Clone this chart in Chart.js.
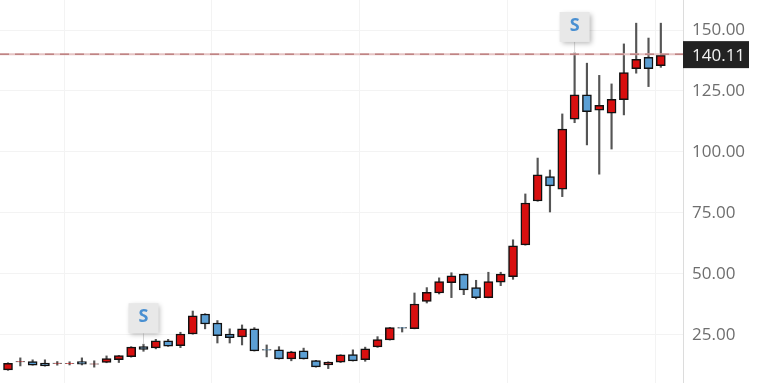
<!DOCTYPE html>
<html>
<head>
<meta charset="utf-8">
<style>
  html, body { margin: 0; padding: 0; background: #fff; }
  #wrap { width: 773px; height: 383px; }
</style>
<script src="https://cdn.jsdelivr.net/npm/chart.js@4"></script>
</head>
<body>
<div id="wrap"><canvas id="price"></canvas></div>
<script>
// one candle per period
const open = [10.7,13.9,14.1,13.5,13.3,13.3,14.1,13.0,13.7,14.9,16.1,20.2,19.7,22.6,20.6,25.4,33.6,29.9,25.4,24.2,27.5,19.0,18.9,15.2,18.5,14.5,12.7,13.8,16.9,14.9,20.1,23.0,28.0,27.6,38.7,42.2,46.4,49.9,44.4,40.3,46.6,48.9,61.9,79.9,89.9,84.8,113.4,123.4,117.1,115.9,121.4,134.1,138.8,135.4];
const close = [13.4,14.1,12.6,12.3,13.5,13.4,13.0,13.2,15.3,16.5,20.0,19.1,22.6,20.4,25.4,32.8,29.5,24.7,23.9,27.5,18.5,18.8,15.2,18.1,15.2,11.9,13.9,16.8,14.4,19.3,23.1,28.0,27.8,37.7,42.5,46.9,49.2,43.5,40.3,46.9,49.9,61.5,79.1,90.6,86.1,109.4,123.4,116.5,119.1,121.6,132.5,138.0,134.1,139.6];
const high = [13.6,15.6,14.8,14.8,14.1,14.0,15.6,14.4,16.4,16.6,20.2,21.2,23.2,23.2,26.1,34.8,33.7,30.9,27.5,29.1,28.0,20.9,20.2,18.3,19.6,14.6,14.0,16.9,18.9,20.0,24.3,28.1,28.1,42.2,44.4,48.4,50.5,50.0,47.4,50.7,50.7,64.0,82.8,97.5,92.6,115.6,140.6,136.4,131.4,127.9,144.3,152.8,146.7,152.8];
const low = [10.5,12.3,12.6,12.2,12.6,12.7,12.7,11.8,13.6,13.7,15.9,18.3,19.3,20.3,19.8,25.3,27.5,21.7,21.7,20.9,18.4,16.0,15.1,14.4,15.1,11.8,11.2,13.7,14.3,14.2,19.9,22.9,26.2,27.5,38.1,41.8,40.3,41.5,39.8,40.2,45.2,47.8,61.8,79.8,75.4,81.7,112.0,102.9,90.9,101.2,115.2,132.3,126.8,134.7];

const priceTicks = [25, 50, 75, 100, 125, 150];
const lastPrice = 140.11;
const gridAt = [4.55, 16.56, 28.57, 40.55, 52.55]; // vertical grid sits between candles
const signalAt = [11, 46]; // candles with an S flag
const signalText = 'S';

const UP = '#d80f0f';
const DOWN = '#5b9fd4';
const LABEL = "'Open Sans', sans-serif";

const idx = open.map((_, i) => i);

// S flags and the last price tag, placed from the scales
const overlay = {
    id: 'overlay',
    afterDatasetsDraw(chart) {
        const { ctx, scales: { x, y }, chartArea } = chart;
        const lineY = y.getPixelForValue(lastPrice);

        ctx.save();
        ctx.strokeStyle = '#e6c4c4';
        ctx.lineWidth = 2;
        ctx.beginPath();
        ctx.moveTo(chartArea.left, lineY);
        ctx.lineTo(chartArea.right, lineY);
        ctx.stroke();
        ctx.strokeStyle = '#a85f5f';
        ctx.lineWidth = 1;
        ctx.setLineDash([9, 6]);
        ctx.beginPath();
        ctx.moveTo(chartArea.left, lineY);
        ctx.lineTo(chartArea.right, lineY);
        ctx.stroke();
        ctx.setLineDash([]);

        // tag on the axis
        ctx.fillStyle = '#222222';
        ctx.fillRect(chartArea.right, lineY - 13, 66, 27);
        ctx.fillStyle = '#f2f2f2';
        ctx.font = '17px ' + LABEL;
        ctx.textAlign = 'left';
        ctx.textBaseline = 'middle';
        ctx.fillText(lastPrice.toFixed(2), chartArea.right + 9, lineY + 2);

        signalAt.forEach(i => {
            const cx = x.getPixelForValue(i);
            const top = y.getPixelForValue(high[i]);
            const boxBottom = top - 11;
            ctx.strokeStyle = '#d5d5d5';
            ctx.lineWidth = 1;
            ctx.beginPath();
            ctx.moveTo(cx, boxBottom);
            ctx.lineTo(cx, top);
            ctx.stroke();

            ctx.save();
            ctx.shadowColor = 'rgba(0,0,0,0.28)';
            ctx.shadowBlur = 5;
            ctx.shadowOffsetX = 2;
            ctx.shadowOffsetY = 2;
            ctx.fillStyle = '#e8e8e8';
            ctx.fillRect(cx - 15, boxBottom - 30, 30, 30);
            ctx.restore();

            ctx.fillStyle = '#4a90d2';
            ctx.font = 'bold 18px ' + LABEL;
            ctx.textAlign = 'center';
            ctx.textBaseline = 'middle';
            ctx.fillText(signalText, cx, boxBottom - 16);
        });
        ctx.restore();
    }
};

new Chart(document.getElementById('price').getContext('2d'), {
    type: 'bar',
    data: {
        datasets: [
            {
                // wicks
                data: idx.map(i => ({ x: i, y: [low[i], high[i]] })),
                backgroundColor: '#555555',
                barThickness: 1.5,
                order: 2
            },
            {
                // bodies
                data: idx.map(i => ({ x: i, y: [open[i], close[i]] })),
                backgroundColor: idx.map(i => close[i] >= open[i] ? UP : DOWN),
                borderColor: '#111111',
                borderWidth: 1.5,
                borderSkipped: false,
                barThickness: 9,
                order: 1
            }
        ]
    },
    options: {
        responsive: true,
        maintainAspectRatio: false,
        animation: false,
        layout: { padding: 0 },
        plugins: { legend: { display: false }, tooltip: { enabled: false } },
        datasets: { bar: { grouped: false } },
        scales: {
            x: {
                type: 'linear',
                min: -0.65,
                max: 54.8,
                offset: false,
                afterBuildTicks: s => { s.ticks = gridAt.map(v => ({ value: v })); },
                afterFit: s => { s.height = 0; s.paddingLeft = 0; s.paddingRight = 0; },
                ticks: { display: false },
                border: { display: false },
                grid: { color: '#f3f3f3', drawTicks: false, offset: false }
            },
            y: {
                position: 'right',
                min: 5.3,
                max: 162.3,
                afterBuildTicks: s => { s.ticks = priceTicks.map(v => ({ value: v })); },
                // no room kept for half labels, the plot runs edge to edge
                afterFit: s => { s.width = 90; s.paddingTop = 0; s.paddingBottom = 0; },
                ticks: {
                    padding: 9,
                    color: '#6e6e6e',
                    font: { family: LABEL, size: 17 },
                    callback: v => Number(v).toFixed(2)
                },
                border: { color: '#dcdcdc' },
                grid: { color: '#f3f3f3', drawTicks: false }
            }
        }
    },
    plugins: [overlay]
});
</script>
</body>
</html>
